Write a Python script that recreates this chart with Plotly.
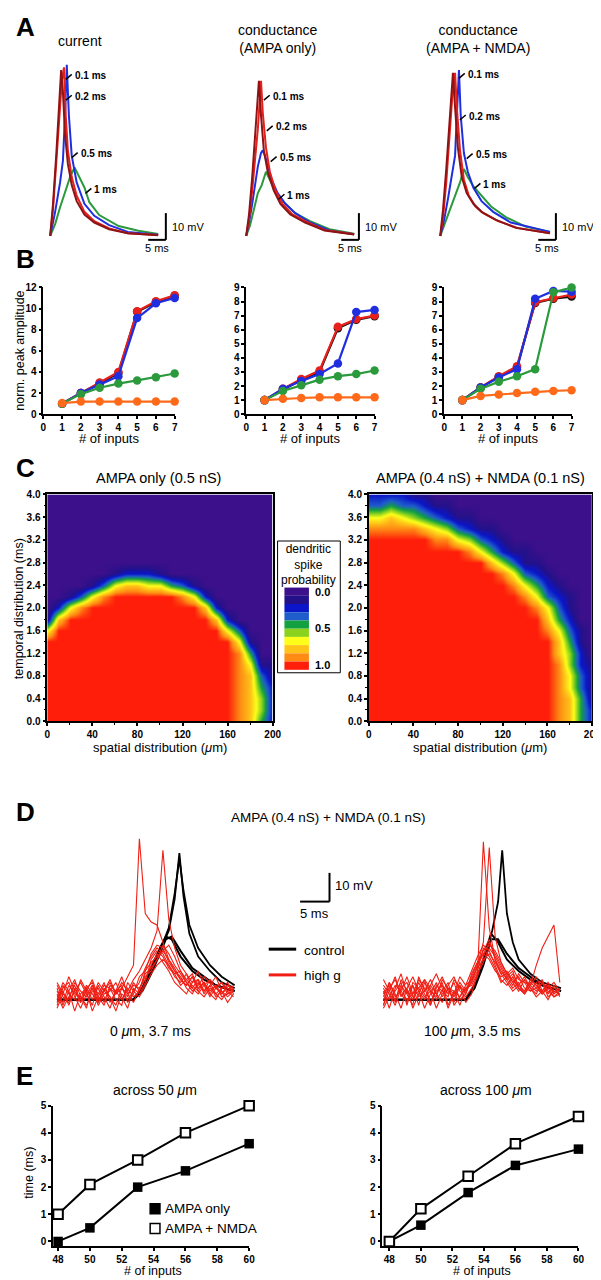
import plotly.graph_objects as go

W, H = 601, 1280
FONT = "Liberation Sans, Arial, Helvetica, sans-serif"

# ---------------- Panel A data (time in ms, voltage in mV) ----------------
A_cur_t_01 = [0, 0.8, 1.7, 2.5, 3.1, 3.6, 4.2, 5, 6.1, 7.5, 9.7, 12.5, 16.7, 22, 30.6]
A_cur_v_01 = [0, 12, 30, 48, 62, 54, 38, 27, 19, 13, 8, 5, 2.5, 1, 0.2]
A_cur_t_02 = [0, 0.8, 1.7, 2.5, 3.3, 3.9, 4.4, 5, 6.1, 7.5, 9.7, 12.5, 16.7, 22, 30.6]
A_cur_v_02 = [0, 10, 27, 44, 58, 63, 45, 32, 22, 15, 9, 5.5, 2.8, 1, 0.3]
A_cur_t_05 = [0, 1.4, 2.8, 3.6, 4.2, 4.7, 5.3, 6.1, 7.5, 9.7, 12.5, 16.7, 22, 30.6]
A_cur_v_05 = [0, 9, 20, 28, 45, 64, 45, 30, 20, 12, 7.5, 4, 1.5, 0.4]
A_cur_t_1 = [0, 1.4, 2.8, 4.2, 5.6, 6.9, 8.3, 9.7, 11.1, 13.9, 19.4, 25, 30.6]
A_cur_v_1 = [0, 4.4, 10.7, 16.3, 21.9, 25.6, 21.9, 18.1, 12.6, 7.8, 3.7, 1.9, 0.7]

A_ampa_t_01 = [0, 0.8, 1.7, 2.2, 2.8, 3.3, 3.6, 4.2, 5, 6.1, 7.8, 9.7, 12.5, 16.7, 22.2, 30.6]
A_ampa_v_01 = [0, 8, 22, 32, 40, 52, 58, 45, 32, 24, 17, 12, 8, 5, 2, 0.5]
A_ampa_t_02 = [0, 0.8, 1.7, 2.5, 3.3, 3.9, 4.2, 4.7, 5.6, 6.7, 8.3, 10.3, 13.1, 16.7, 22.2, 30.6]
A_ampa_v_02 = [0, 6, 17, 28, 40, 52, 58, 46, 33, 24, 17, 12, 8, 5.5, 2.2, 0.6]
A_ampa_t_05 = [0, 0.8, 1.7, 2.5, 3.3, 4.2, 4.7, 5.3, 6.1, 7.2, 8.9, 11.1, 13.9, 18.1, 23.6, 30.6]
A_ampa_v_05 = [0, 5, 12, 20, 26, 31, 32, 30, 26, 21, 16, 12, 8.5, 5, 2, 0.6]
A_ampa_t_1 = [0, 1.1, 2.2, 3.3, 4.4, 5.6, 6.7, 7.8, 9.2, 11.1, 13.9, 18.1, 23.6, 30.6]
A_ampa_v_1 = [0, 4, 10, 16, 19, 24, 21, 18, 15, 12, 8.5, 5.5, 2.5, 0.8]

A_nmda_t_01 = [0, 0.8, 1.7, 2.5, 3.3, 3.6, 4.2, 5, 6.1, 7.5, 9.4, 11.7, 15.8, 21.4, 31.1]
A_nmda_v_01 = [0, 10, 25, 42, 56, 61, 48, 33, 22, 16, 12, 9, 6, 3, 1]
A_nmda_t_02 = [0, 0.8, 1.7, 2.5, 3.3, 4.2, 4.7, 5.6, 6.7, 8.1, 10, 12.2, 16.4, 21.9, 31.1]
A_nmda_v_02 = [0, 7, 20, 36, 50, 61, 48, 32, 21, 15, 11, 8.5, 5.5, 3, 1]
A_nmda_t_05 = [0, 1.1, 2.2, 3.3, 4.2, 4.7, 5.3, 5.8, 6.7, 7.8, 9.4, 11.7, 15, 20, 31.1]
A_nmda_v_05 = [0, 6, 14, 22, 30, 45, 62, 45, 31, 24, 18, 13, 9, 5, 1.5]
A_nmda_t_1 = [0, 1.1, 2.2, 3.3, 4.4, 5.6, 6.7, 7.8, 9.4, 11.7, 14.4, 18.6, 24.2, 31.1]
A_nmda_v_1 = [0, 4, 8, 12, 16, 20, 25, 22, 18.5, 15, 11, 7, 3.5, 1.5]

A_labels = ["0.1 ms", "0.2 ms", "0.5 ms", "1 ms"]
A_titles = ["current", "conductance<br>(AMPA only)", "conductance<br>(AMPA + NMDA)"]

# ---------------- Panel B data ----------------
B_inputs = [1, 2, 3, 4, 5, 6, 7]
B_cur_black = [1, 2.0, 2.9, 3.9, 9.7, 10.6, 11.2]
B_cur_red = [1, 2.0, 3.0, 4.0, 9.75, 10.7, 11.25]
B_cur_blue = [1, 2.0, 2.8, 3.6, 9.1, 10.5, 11.0]
B_cur_green = [1, 1.9, 2.5, 2.9, 3.2, 3.5, 3.85]
B_cur_orange = [1.05, 1.2, 1.2, 1.2, 1.2, 1.2, 1.2]
B_ampa_black = [1, 1.75, 2.45, 3.0, 6.1, 6.7, 6.95]
B_ampa_red = [1, 1.8, 2.5, 3.1, 6.2, 6.75, 7.0]
B_ampa_blue = [1, 1.8, 2.35, 2.85, 3.6, 7.25, 7.4]
B_ampa_green = [1, 1.65, 2.05, 2.45, 2.7, 2.85, 3.1]
B_ampa_orange = [1, 1.1, 1.15, 1.2, 1.2, 1.2, 1.2]
B_nmda_black = [1, 1.9, 2.65, 3.35, 7.9, 8.2, 8.35]
B_nmda_red = [1, 1.9, 2.7, 3.4, 7.95, 8.25, 8.5]
B_nmda_blue = [1, 1.9, 2.6, 3.2, 8.2, 8.75, 8.7]
B_nmda_green = [1, 1.8, 2.3, 2.7, 3.2, 8.65, 9.0]
B_nmda_orange = [1, 1.3, 1.4, 1.5, 1.6, 1.65, 1.7]

# ---------------- Panel C data (probability digits 0..9, rows from 4.0 ms down to 0.0 ms) ----------------
C_space = [0, 10, 20, 30, 40, 50, 60, 70, 80, 90, 100, 110, 120, 130, 140, 150, 160, 170, 180, 190, 200]
C_time = [4.0, 3.8, 3.6, 3.4, 3.2, 3.0, 2.8, 2.6, 2.4, 2.2, 2.0, 1.8, 1.6, 1.4, 1.2, 1.0, 0.8, 0.6, 0.4, 0.2, 0.0]
C_ampa_rows = [
    "000000000000000000000",
    "000000000000000000000",
    "000000000000000000000",
    "000000000000000000000",
    "000000000000000000000",
    "000000000000000000000",
    "000000000000000000000",
    "000000122210000000000",
    "000013677664310000000",
    "001368999999862000000",
    "026899999999997200000",
    "179999999999999720000",
    "699999999999999963000",
    "999999999999999996100",
    "999999999999999998400",
    "999999999999999998611",
    "999999999999999998731",
    "999999999999999998742",
    "999999999999999998752",
    "999999999999999998752",
    "999999999999999998742",
]
C_nmda_rows = [
    "222211000000000000000",
    "334332110000000000000",
    "667654321100000000000",
    "888887653211000000000",
    "999999886532100000000",
    "999999999864211000000",
    "999999999997531100000",
    "999999999999863210000",
    "999999999999986421000",
    "999999999999998632100",
    "999999999999999863100",
    "999999999999999974200",
    "999999999999999986310",
    "999999999999999997410",
    "999999999999999997520",
    "999999999999999998521",
    "999999999999999998631",
    "999999999999999998631",
    "999999999999999998741",
    "999999999999999998742",
    "999999999999999998742",
]
C_colors = ["#3b108a", "#24118a", "#0a16c8", "#1f5ccc", "#12a040",
            "#8ad21e", "#ffff1a", "#ffc418", "#ff8a14", "#ff1e0a"]
C_cb_labels = ["0.0", "0.5", "1.0"]

# ---------------- Panel D data (time in ms, voltage in mV) ----------------
D_t = [0, 1, 2, 3, 4, 5, 6, 7, 8, 9, 10, 11, 12, 13, 14, 15, 16, 17, 18, 19, 20,
       21, 22, 23, 24, 25, 26, 27, 28, 29, 30]
D0_red = [
    [1, 3, -2, 4, 0, 5, 2, -1, 3, 6, 2, 4, 8, 12, 56, 30, 27, 26, 20, 14, 10, 7, 5, 8, 4, 6, 3, 5, 2, 4, 3],
    [2, -3, 1, 5, -1, 3, 7, 1, -2, 4, 2, 6, 3, 7, 10, 14, 18, 24, 52, 28, 18, 12, 9, 6, 10, 5, 7, 4, 6, 3, 5],
    [-2, 4, 6, 1, -3, 2, 5, -1, 4, 1, -4, 2, 0, 3, 6, 11, 15, 18, 16, 12, 8, 6, 9, 4, 2, 5, 1, 4, 6, 2, 3],
    [5, 1, -1, 3, 6, 2, -2, 5, 1, -3, 3, 5, -1, 2, 8, 10, 13, 15, 17, 14, 11, 7, 5, 8, 3, 1, 4, 2, 0, 3, 1],
    [0, 6, 3, -4, 2, 4, 0, 6, 3, 1, -2, 4, 2, -1, 4, 7, 12, 16, 13, 10, 6, 4, 2, 6, 7, 3, 5, 1, 3, -1, 2],
    [3, -1, 5, 2, 1, -2, 3, 4, -1, 5, 3, 0, 4, 1, 3, 9, 11, 14, 19, 16, 12, 9, 6, 3, 5, 8, 6, 2, 4, 5, 3],
    [-3, 2, 0, 6, 3, 1, 4, -2, 2, 3, 6, 1, -3, 4, 2, 6, 14, 17, 15, 11, 9, 10, 7, 5, 3, 6, 2, 5, 1, 2, 4],
    [4, -2, 3, 7, 1, -3, 5, 2, 6, -1, 3, 8, 2, 5, 4, 8, 10, 14, 17, 19, 15, 10, 6, 4, 7, 2, 5, 8, 3, 1, 3],
    [-1, 5, 2, 0, 7, 3, -4, 1, 5, 4, 0, -2, 6, 3, 1, 5, 9, 12, 14, 12, 9, 5, 7, 9, 4, 6, 2, 0, 4, 6, 2],
    [6, 2, 8, 3, -1, 4, 6, 0, 3, 7, 2, 4, 1, 6, 3, 10, 16, 19, 18, 13, 10, 8, 4, 2, 6, 3, 7, 4, 2, 5, 4],
]
D1_red = [
    [2, 5, -1, 7, 3, 0, 6, 2, -2, 4, 8, 3, 1, 5, -1, 2, 9, 55, 25, 14, 10, 7, 9, 5, 3, 6, 4, 2, 5, 3, 2],
    [-2, 3, 8, 1, 4, -3, 2, 7, 4, 0, 3, 6, -2, 1, 4, 6, 12, 20, 53, 22, 13, 9, 6, 8, 4, 3, 6, 2, 4, 1, 3],
    [4, 0, 3, 6, -2, 5, 1, 3, 7, 2, -1, 4, 2, 6, 3, 8, 13, 16, 14, 10, 8, 9, 11, 7, 6, 5, 12, 18, 22, 26, 6],
    [1, 6, 2, -3, 4, 8, 3, 0, 5, 2, 6, -2, 3, 1, 5, 10, 15, 19, 17, 12, 7, 5, 8, 4, 2, 5, 3, 6, 1, 3, 2],
    [-3, 1, 5, 3, 0, 2, 7, 4, -1, 3, 5, 2, 6, 0, 2, 7, 11, 14, 16, 13, 9, 10, 6, 3, 7, 4, 1, 3, 5, 2, 4],
    [5, 2, -2, 4, 6, 1, 3, -3, 2, 6, 1, 4, 3, -2, 4, 5, 9, 13, 18, 15, 11, 7, 4, 6, 2, 7, 5, 3, 0, 4, 3],
    [0, 4, 7, 2, -1, 6, 4, 1, 3, -3, 2, 5, 8, 3, 1, 4, 8, 15, 20, 16, 12, 8, 5, 9, 6, 3, 4, 7, 2, 5, 1],
    [3, -3, 4, 9, 2, 5, -2, 6, 3, 1, 7, 4, -1, 5, 2, 9, 13, 17, 21, 14, 9, 6, 3, 5, 8, 4, 2, 6, 3, 1, 2],
    [-2, 6, 1, 3, 8, 2, 4, 7, -2, 5, 3, 1, 7, 4, 3, 6, 10, 18, 15, 11, 6, 8, 10, 4, 3, 7, 5, 2, 4, 6, 3],
    [7, 3, 0, 5, 2, -2, 8, 3, 5, 9, 4, -3, 2, 8, 5, 7, 12, 16, 19, 17, 13, 9, 7, 4, 2, 5, 8, 3, 6, 2, 4],
]
D0_t_black = [0, 13, 14.5, 16, 17.5, 18.5, 19.5, 21, 23, 25, 27, 30.2]
D0_black = [[0, 0, 4, 11, 18, 22, 21, 15, 10, 7, 5, 3],
            [0, 0, 3, 9, 16, 21, 22, 17, 11, 8, 5, 3]]
D0_t_spike = [0, 13, 14.5, 16, 17.5, 19, 20, 20.8, 21.5, 22.5, 24, 26, 28, 30.2]
D0_spike = [[0, 0, 4, 10, 17, 24, 35, 51, 36, 23, 15, 10, 6, 4],
            [0, 0, 4, 10, 17, 25, 37, 49, 38, 26, 18, 12, 8, 5]]
D1_t_black = [0, 14, 15.5, 17, 18.3, 19.5, 21, 23, 25, 27, 30.2]
D1_black = [[0, 0, 5, 14, 23, 20, 14, 10, 7, 5, 3],
            [0, 0, 4, 12, 21, 21, 16, 11, 8, 5, 3]]
D1_t_spike = [0, 14, 15.5, 17, 18.5, 19.5, 20.2, 21, 22, 23, 25, 27, 30.2]
D1_spike = [[0, 0, 5, 14, 24, 34, 52, 30, 20, 14, 9, 6, 4]]
D_captions = ["0 <i>μ</i>m, 3.7 ms", "100 <i>μ</i>m, 3.5 ms"]

# ---------------- Panel E data ----------------
E_inputs = [48, 50, 53, 56, 60]
E50_ampa = [0, 0.5, 2.0, 2.6, 3.6]
E50_nmda = [1.0, 2.1, 3.0, 4.0, 5.0]
E100_ampa = [0, 0.6, 1.8, 2.8, 3.4]
E100_nmda = [0, 1.2, 2.4, 3.6, 4.6]

# ---------------- helpers ----------------
def xdom(a, b):
    return [a / W, b / W]

def ydom(top, bottom):
    return [1 - bottom / H, 1 - top / H]

def px(x):
    return x / W

def py(y):
    return 1 - y / H

annotations = []
shapes = []

def txt(x, y, s, size=13, xanchor="center", bold=False, angle=0, yanchor="middle"):
    annotations.append(dict(
        x=px(x), y=py(y), xref="paper", yref="paper", text=s, showarrow=False,
        xanchor=xanchor, yanchor=yanchor, textangle=angle,
        font=dict(family=FONT, size=size, color="black", weight="bold" if bold else "normal")))

def pline(x0, y0, x1, y1, color="black", width=1.5):
    shapes.append(dict(type="line", xref="paper", yref="paper",
                       x0=px(x0), y0=py(y0), x1=px(x1), y1=py(y1),
                       line=dict(color=color, width=width)))

fig = go.Figure()
layout = dict(width=W, height=H, margin=dict(l=0, r=0, t=0, b=0),
              paper_bgcolor="white", plot_bgcolor="white", showlegend=False)

def hidden_axes(n, xd, yd, xr, yr):
    sx = "" if n == 1 else str(n)
    layout["xaxis" + sx] = dict(domain=xd, range=xr, visible=False, anchor="y" + sx)
    layout["yaxis" + sx] = dict(domain=yd, range=yr, visible=False, anchor="x" + sx)

tickfont = dict(family=FONT, size=10, color="black", weight="bold")

def line_axes(n, xd, yd, xr, yr, xtv, ytv):
    sx = str(n)
    common = dict(showline=True, linecolor="black", linewidth=1.5, ticks="outside",
                  ticklen=3, tickwidth=1.5, tickcolor="black", showgrid=False,
                  zeroline=False, tickfont=tickfont)
    layout["xaxis" + sx] = dict(domain=xd, range=xr, tickvals=xtv, anchor="y" + sx, **common)
    layout["yaxis" + sx] = dict(domain=yd, range=yr, tickvals=ytv, anchor="x" + sx, **common)

# ---------------- Panel A ----------------
A_px_ms, A_px_mv = 3.6, 2.7
A_base = 224
A_starts = [40, 240, 438]
A_colors = ["#8c1414", "#e8201c", "#1f2fe0", "#2a9a3c"]
A_sets = [
    [(A_cur_t_01, A_cur_v_01), (A_cur_t_02, A_cur_v_02), (A_cur_t_05, A_cur_v_05), (A_cur_t_1, A_cur_v_1)],
    [(A_ampa_t_01, A_ampa_v_01), (A_ampa_t_02, A_ampa_v_02), (A_ampa_t_05, A_ampa_v_05), (A_ampa_t_1, A_ampa_v_1)],
    [(A_nmda_t_01, A_nmda_v_01), (A_nmda_t_02, A_nmda_v_02), (A_nmda_t_05, A_nmda_v_05), (A_nmda_t_1, A_nmda_v_1)],
]
for i, (x0, sets) in enumerate(zip(A_starts, A_sets)):
    n = i + 1
    left, right = x0 - 10, x0 + 135
    top, bottom = 45, 240
    hidden_axes(n, xdom(left, right), ydom(top, bottom),
                [(left - x0) / A_px_ms, (right - x0) / A_px_ms],
                [(A_base - bottom) / A_px_mv, (A_base - top) / A_px_mv])
    sx = "" if n == 1 else str(n)
    for k in [3, 2, 1, 0]:
        t, v = sets[k]
        fig.add_trace(go.Scatter(x=t, y=v, mode="lines", line=dict(color=A_colors[k], width=2),
                                 xaxis="x" + sx, yaxis="y" + sx, hoverinfo="skip"))

txt(70, 27, A_titles[0], size=14)
txt(272, 25, A_titles[1], size=14)
txt(477, 25, A_titles[2], size=14)
A_label_pos = [
    [(63, 62), (63, 83), (69, 141), (83, 177)],
    [(265, 83), (268, 114), (272, 145), (280, 183)],
    [(464, 61), (465, 103), (472, 142), (480, 172)],
]
for pos in A_label_pos:
    for lab, (lx, ly) in zip(A_labels, pos):
        txt(lx, ly, lab, size=10, xanchor="left", bold=True)
        pline(lx - 7, ly + 4, lx - 1, ly - 1, width=1.5)
for bx in [158, 355, 556]:
    pline(bx, 201, bx, 228, width=2)
    pline(bx - 18, 228, bx, 228, width=2)
    txt(bx + 4, 215, "10 mV", size=11, xanchor="left")
    txt(bx - 9, 236, "5 ms", size=11)

# ---------------- Panel B ----------------
B_colors = ["#111111", "#e8201c", "#1f2fe0", "#2a9a3c", "#ff6a1a"]
B_sets = [
    [B_cur_black, B_cur_red, B_cur_blue, B_cur_green, B_cur_orange],
    [B_ampa_black, B_ampa_red, B_ampa_blue, B_ampa_green, B_ampa_orange],
    [B_nmda_black, B_nmda_red, B_nmda_blue, B_nmda_green, B_nmda_orange],
]
B_xdoms = [(33, 167), (240, 371), (442, 572)]
B_ymax = [12, 9, 9]
B_ytv = [[0, 2, 4, 6, 8, 10, 12], [0, 1, 2, 3, 4, 5, 6, 7, 8, 9], [0, 1, 2, 3, 4, 5, 6, 7, 8, 9]]
for i in range(3):
    n = 4 + i
    line_axes(n, xdom(*B_xdoms[i]), ydom(276, 404), [0, 7], [0, B_ymax[i]],
              [0, 1, 2, 3, 4, 5, 6, 7], B_ytv[i])
    for k in range(5):
        fig.add_trace(go.Scatter(x=B_inputs, y=B_sets[i][k], mode="lines+markers",
                                 line=dict(color=B_colors[k], width=2.2),
                                 marker=dict(color=B_colors[k], size=8.5),
                                 cliponaxis=False, xaxis="x" + str(n), yaxis="y" + str(n),
                                 hoverinfo="skip"))
    cx = (B_xdoms[i][0] + B_xdoms[i][1]) / 2
    txt(cx, 429, "# of inputs", size=13)
txt(9, 340, "norm. peak amplitude", size=12.5, angle=-90)

# ---------------- Panel C ----------------
C_scale = [[k / 9, c] for k, c in enumerate(C_colors)]
C_xdoms = [(37, 267), (365, 593)]
for i, rows in enumerate([C_ampa_rows, C_nmda_rows]):
    n = 7 + i
    z = [[int(ch) for ch in r] for r in rows][::-1]
    fig.add_trace(go.Heatmap(z=z, x=C_space, y=C_time[::-1], zmin=0, zmax=9,
                             colorscale=C_scale, zsmooth="best", showscale=False,
                             xaxis="x" + str(n), yaxis="y" + str(n), hoverinfo="skip"))
    common = dict(showline=True, linecolor="black", linewidth=1.5, ticks="outside",
                  ticklen=3, tickwidth=1.5, tickcolor="black", showgrid=False,
                  zeroline=False, tickfont=tickfont, mirror=True)
    layout["xaxis" + str(n)] = dict(domain=xdom(*C_xdoms[i]), range=[0, 200],
                                    tickvals=[0, 40, 80, 120, 160, 200], anchor="y" + str(n),
                                    minor=dict(ticks="outside", ticklen=2, tickwidth=1,
                                               dtick=20, tickcolor="black"), **common)
    layout["yaxis" + str(n)] = dict(domain=ydom(485, 714), range=[0, 4],
                                    tickvals=[0, 0.4, 0.8, 1.2, 1.6, 2.0, 2.4, 2.8, 3.2, 3.6, 4.0],
                                    ticktext=["0.0", "0.4", "0.8", "1.2", "1.6", "2.0", "2.4",
                                              "2.8", "3.2", "3.6", "4.0"],
                                    anchor="x" + str(n),
                                    minor=dict(ticks="outside", ticklen=2, tickwidth=1,
                                               dtick=0.2, tickcolor="black"), **common)
    cx = (C_xdoms[i][0] + C_xdoms[i][1]) / 2
    txt(cx, 740, "spatial distribution (<i>μ</i>m)", size=13)
txt(150, 468, "AMPA only (0.5 nS)", size=14.5)
txt(479, 468, "AMPA (0.4 nS) + NMDA (0.1 nS)", size=14.5)
txt(9, 600, "temporal distribution (ms)", size=12.5, angle=-90)

shapes.append(dict(type="rect", xref="paper", yref="paper", x0=px(272), x1=px(336),
                   y0=py(665), y1=py(532), line=dict(color="black", width=1), fillcolor="white"))
txt(304, 556, "dendritic<br>spike<br>probability", size=12)
sw_top, sw_h = 579, 8.3
for k, c in enumerate(C_colors):
    shapes.append(dict(type="rect", xref="paper", yref="paper", x0=px(279), x1=px(304),
                       y0=py(sw_top + (k + 1) * sw_h), y1=py(sw_top + k * sw_h),
                       line=dict(width=0), fillcolor=c))
for lab, yy in zip(C_cb_labels, [583, 620, 657]):
    txt(308, yy, lab, size=11, xanchor="left", bold=True)

# ---------------- Panel D ----------------
D_px_ms, D_px_mv = 6.0, 2.9
D_base = 995
D_starts = [47, 380]
D_reds = [D0_red, D1_red]
D_blacks = [(D0_t_black, D0_black, D0_t_spike, D0_spike), (D1_t_black, D1_black, D1_t_spike, D1_spike)]
for i in range(2):
    n = 9 + i
    x0 = D_starts[i]
    left, right = x0 - 3, x0 + 185
    top, bottom = 826, 1016
    hidden_axes(n, xdom(left, right), ydom(top, bottom),
                [(left - x0) / D_px_ms, (right - x0) / D_px_ms],
                [(D_base - bottom) / D_px_mv, (D_base - top) / D_px_mv])
    tb, bl, ts, sp = D_blacks[i]
    for v in bl:
        fig.add_trace(go.Scatter(x=tb, y=v, mode="lines", line=dict(color="black", width=2),
                                 xaxis="x" + str(n), yaxis="y" + str(n), hoverinfo="skip"))
    for v in sp:
        fig.add_trace(go.Scatter(x=ts, y=v, mode="lines", line=dict(color="black", width=1.8),
                                 xaxis="x" + str(n), yaxis="y" + str(n), hoverinfo="skip"))
    for v in D_reds[i]:
        fig.add_trace(go.Scatter(x=D_t, y=v, mode="lines", line=dict(color="#f01e14", width=1.1),
                                 xaxis="x" + str(n), yaxis="y" + str(n), hoverinfo="skip"))
txt(323, 811, "AMPA (0.4 nS) + NMDA (0.1 nS)", size=13.5)
txt(142, 1027, D_captions[0], size=14)
txt(470, 1027, D_captions[1], size=14)
pline(325, 867, 325, 896, width=2)
pline(295, 896, 325, 896, width=2)
txt(329, 880, "10 mV", size=13, xanchor="left")
txt(310, 908, "5 ms", size=13)
pline(263, 944, 291, 944, color="black", width=3)
pline(263, 970, 291, 970, color="#f01e14", width=3)
txt(297, 945, "control", size=13.5, xanchor="left")
txt(297, 971, "high g", size=13.5, xanchor="left")

# ---------------- Panel E ----------------
E_sets = [(E50_ampa, E50_nmda), (E100_ampa, E100_nmda)]
E_xdoms = [(43, 243), (379, 579)]
E_xr = [[47.69, 60], [47.56, 60]]
for i in range(2):
    n = 11 + i
    line_axes(n, xdom(*E_xdoms[i]), ydom(1102, 1244), E_xr[i], [-0.18, 5],
              [48, 50, 52, 54, 56, 58, 60], [0, 1, 2, 3, 4, 5])
    ampa, nmda = E_sets[i]
    fig.add_trace(go.Scatter(x=E_inputs, y=ampa, mode="lines+markers",
                             line=dict(color="black", width=2),
                             marker=dict(symbol="square", size=9.5, color="black"),
                             cliponaxis=False, xaxis="x" + str(n), yaxis="y" + str(n), hoverinfo="skip"))
    fig.add_trace(go.Scatter(x=E_inputs, y=nmda, mode="lines+markers",
                             line=dict(color="black", width=2),
                             marker=dict(symbol="square", size=9.5, color="white",
                                         line=dict(color="black", width=2)),
                             cliponaxis=False, xaxis="x" + str(n), yaxis="y" + str(n), hoverinfo="skip"))
    cx = (E_xdoms[i][0] + E_xdoms[i][1]) / 2
    txt(cx + 2, 1269, "# of inputs", size=12.5)
txt(147, 1086, "across 50 <i>μ</i>m", size=14)
txt(485, 1086, "across 100 <i>μ</i>m", size=14)
txt(18, 1170, "time (ms)", size=12.5, angle=-90)
shapes.append(dict(type="rect", xref="paper", yref="paper", x0=px(142), x1=px(152),
                   y0=py(1211), y1=py(1201), line=dict(color="black", width=1.5), fillcolor="black"))
shapes.append(dict(type="rect", xref="paper", yref="paper", x0=px(142), x1=px(152),
                   y0=py(1231), y1=py(1221), line=dict(color="black", width=1.5), fillcolor="white"))
txt(155, 1206, "AMPA only", size=13.5, xanchor="left")
txt(155, 1226, "AMPA + NMDA", size=13.5, xanchor="left")

for letter, yy in [("A", 13), ("B", 247), ("C", 458), ("D", 806), ("E", 1072)]:
    txt(3, yy, letter, size=26, xanchor="left", bold=True)

layout["annotations"] = annotations
layout["shapes"] = shapes
fig.update_layout(**layout)
fig.write_html("out.html")
